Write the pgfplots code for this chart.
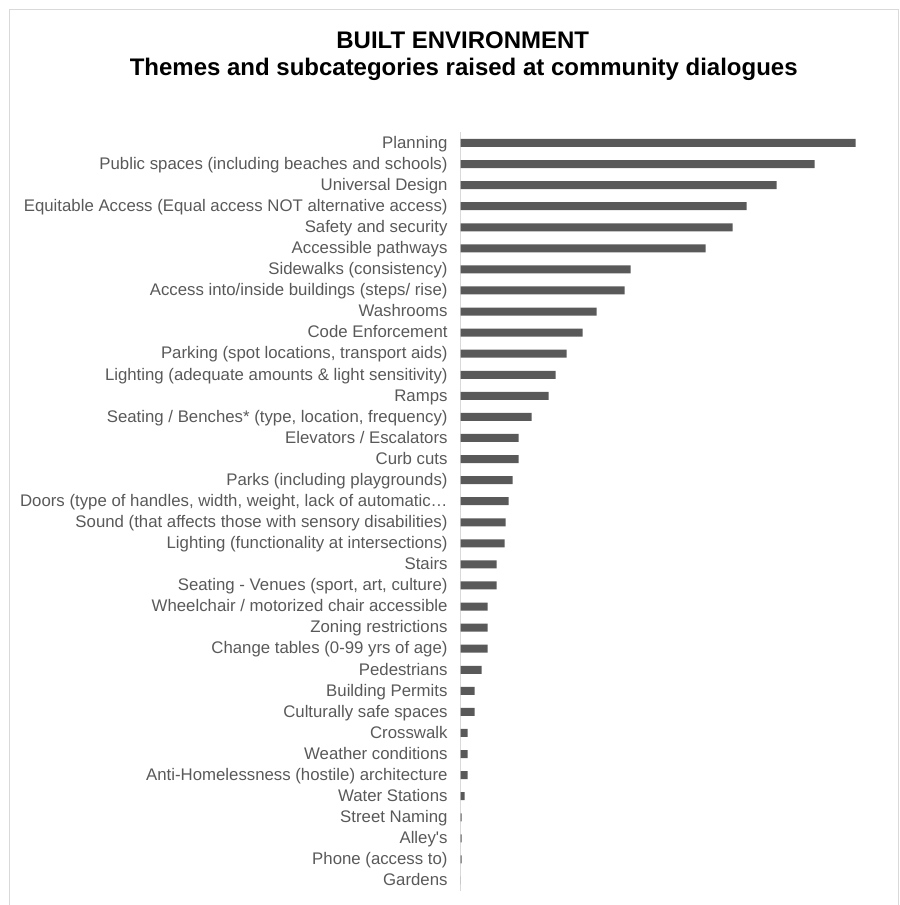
\documentclass[border=0pt]{standalone}
\usepackage{pgfplots}
\pgfplotsset{compat=1.18}
\usepackage{fontspec}
\setmainfont{Liberation Sans}
\definecolor{barc}{HTML}{595959}
\definecolor{labc}{HTML}{595959}
\definecolor{framec}{HTML}{D9D9D9}
\begin{document}
\begin{tikzpicture}
\path (0pt,0pt) rectangle (900pt,-905pt);
\draw[framec, line width=1pt] (10pt,-905pt) -- (10pt,-10pt) -- (899pt,-10pt) -- (899pt,-905pt);
\node[font=\fontsize{24}{28}\selectfont\bfseries, align=center] at (463pt,-40pt) {BUILT ENVIRONMENT};
\node[font=\fontsize{24}{28}\selectfont\bfseries, align=center] at (464pt,-69pt) {Themes and subcategories raised at community dialogues};
\begin{axis}[
  at={(461pt,-891.5pt)}, anchor=south west,
  scale only axis, width=400pt, height=759pt,
  xmin=0, xmax=400, ymin=-0.5, ymax=35.5,
  y dir=reverse,
  axis x line=none,
  axis y line*=left,
  y axis line style={framec, line width=1.2pt, -},
  ytick={0,...,35},
  major tick length=0pt,
  yticklabel style={font=\fontsize{16.8}{18}\selectfont, text=labc, anchor=east, inner sep=0pt, text height=12pt, text depth=3.5pt, xshift=-13pt, yshift=-1pt},
  yticklabels={
    {Planning},
    {Public spaces (including beaches and schools)},
    {Universal Design},
    {Equitable Access (Equal access NOT alternative access)},
    {Safety and security},
    {Accessible pathways},
    {Sidewalks (consistency)},
    {Access into/inside buildings (steps/ rise)},
    {Washrooms},
    {Code Enforcement},
    {Parking (spot locations, transport aids)},
    {Lighting (adequate amounts \& light sensitivity)},
    {Ramps},
    {Seating / Benches* (type, location, frequency)},
    {Elevators / Escalators},
    {Curb cuts},
    {Parks (including playgrounds)},
    {Doors (type of handles, width, weight, lack of automatic…},
    {Sound (that affects those with sensory disabilities)},
    {Lighting (functionality at intersections)},
    {Stairs},
    {Seating - Venues (sport, art, culture)},
    {Wheelchair / motorized chair accessible},
    {Zoning restrictions},
    {Change tables (0-99 yrs of age)},
    {Pedestrians},
    {Building Permits},
    {Culturally safe spaces},
    {Crosswalk},
    {Weather conditions},
    {Anti-Homelessness (hostile) architecture},
    {Water Stations},
    {Street Naming},
    {Alley\textquotesingle s},
    {Phone (access to)},
    {Gardens}
  },
  xbar, bar width=8pt, bar shift=0pt,
  clip=false,
]
\addplot[fill=barc, draw=none] coordinates {
(395,0) (354,1) (316,2) (286,3) (272,4) (245,5) (170,6) (164,7) (136,8) (122,9)
(106,10) (95,11) (88,12) (71,13) (58,14) (58,15) (52,16) (48,17) (45,18) (44,19)
(36,20) (36,21) (27,22) (27,23) (27,24) (21,25) (14,26) (14,27) (7,28) (7,29)
(7,30) (4,31) (1,32) (1,33) (1,34) (0,35)
};
\end{axis}
\end{tikzpicture}
\end{document}
